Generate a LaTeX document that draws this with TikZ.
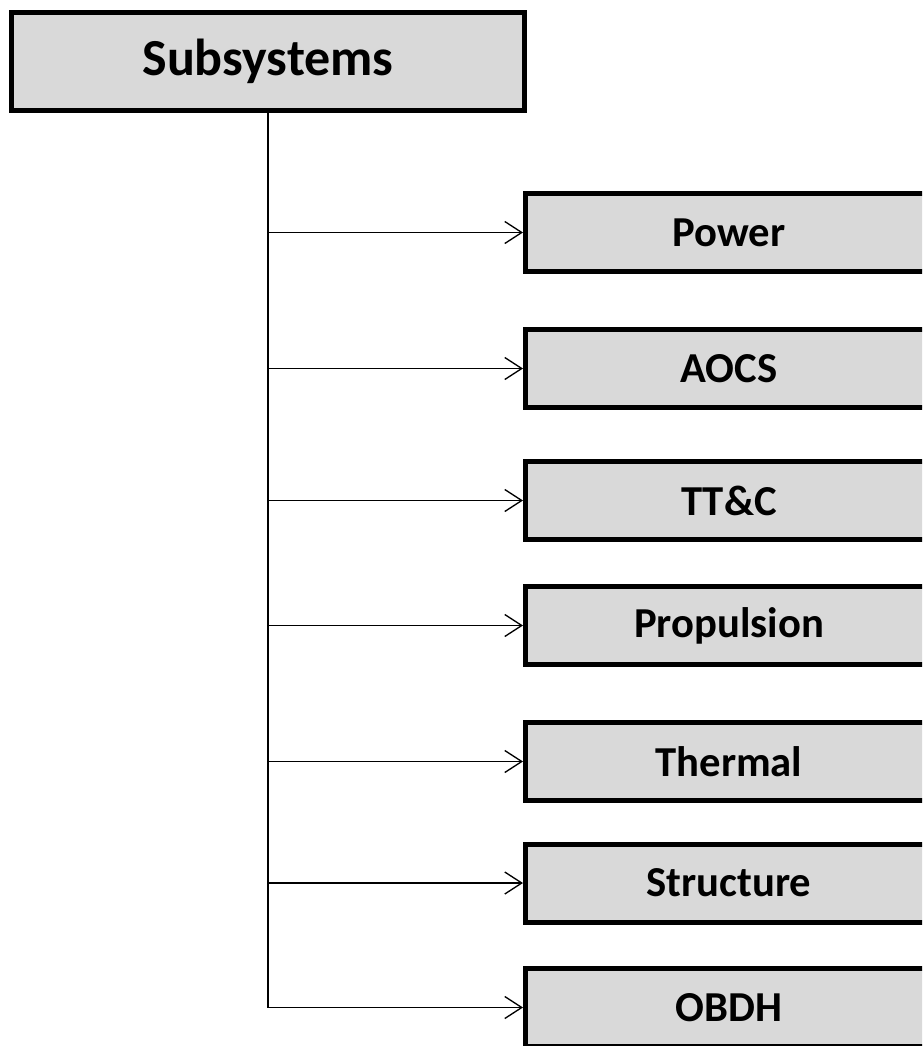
\documentclass[tikz,border=0pt]{standalone}
\usepackage{fontspec}
\setmainfont{Carlito}
\usetikzlibrary{arrows.meta}

\tikzset{every picture/.style={line width=0.75pt}}
\tikzset{
  topbox/.style={draw, line width=3.75pt, fill={rgb,255:red,217;green,217;blue,217}, inner sep=0pt,
    minimum width=384.75pt, minimum height=73.5pt, font=\bfseries\fontsize{39}{47}\selectfont},
  subbox/.style={draw, line width=3.75pt, fill={rgb,255:red,217;green,217;blue,217}, inner sep=0pt,
    minimum width=305.25pt, minimum height=58.5pt, font=\bfseries\fontsize{32}{38}\selectfont},
  link/.style={line width=1pt, -{Straight Barb[length=12.75pt,width=16.5pt]}}
}

\begin{document}
\begin{tikzpicture}[x=0.75pt,y=0.75pt,yscale=-1,xscale=1]
\useasboundingbox (0,0) rectangle (922,1046);
\clip (0,0) rectangle (922,1046);

% Top Box
\node [topbox] (subsys) at (268,61.5) {Subsystems};

% Sub Boxes
\node [subbox] (power) at (729,232.5) {Power};
\node [subbox] (aocs) at (729,368.5) {AOCS};
\node [subbox] (ttc) at (729,500.5) {TT\&C};
\node [subbox] (prop) at (729,625.5) {Propulsion};
\node [subbox] (therm) at (729,761.5) {Thermal};
\node [subbox] (struct) at (729,883) {Structure};
\node [subbox] (obdh) at (729,1007.5) {OBDH};

% Connectors
\foreach \n in {power,aocs,ttc,prop,therm,struct,obdh}
  \draw [link] (subsys.south) |- (\n.west) ;

\end{tikzpicture}
\end{document}
